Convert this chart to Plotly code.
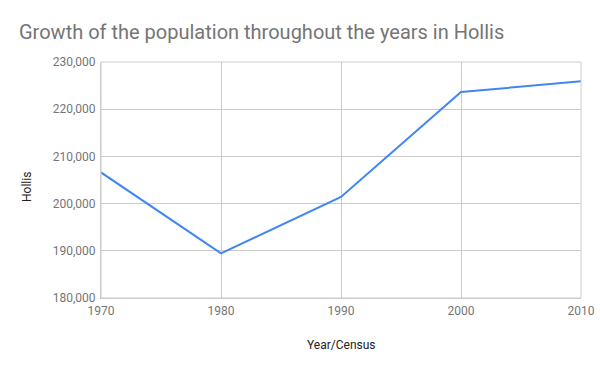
import plotly.graph_objects as go

years = [1970, 1980, 1990, 2000, 2010]
population = [206600, 189450, 201400, 223650, 225900]
y_ticks = [180000, 190000, 200000, 210000, 220000, 230000]
y_tick_labels = ["180,000", "190,000", "200,000", "210,000", "220,000", "230,000"]

W, H = 600, 371
L, R, T, B = 101, 19, 62, 73

fig = go.Figure()
fig.add_trace(go.Scatter(x=years, y=population, mode="lines",
                         line=dict(color="#4285F4", width=2), name="Hollis"))

fig.update_layout(
    width=W, height=H,
    margin=dict(l=L, r=R, t=T, b=B, autoexpand=False),
    paper_bgcolor="white", plot_bgcolor="white",
    font=dict(family="Roboto", size=12, color="#757575"),
    title=dict(text="Growth of the population throughout the years in Hollis",
               x=19/W, xanchor="left", y=1-32/H, yanchor="middle",
               font=dict(family="Roboto", size=20, color="#757575")),
    showlegend=False,
    xaxis=dict(range=[1970, 2010], tickvals=years, ticktext=[str(y) for y in years],
               showgrid=True, gridcolor="#cccccc", gridwidth=1,
               showline=True, linecolor="#cccccc", zeroline=False, automargin=False,
               ticks="", ticklabelstandoff=2, tickfont=dict(color="#757575", size=12)),
    yaxis=dict(range=[180000, 230000], tickvals=y_ticks, ticktext=y_tick_labels,
               showgrid=True, gridcolor="#cccccc", gridwidth=1,
               showline=True, linecolor="#cccccc", zeroline=False, automargin=False,
               ticks="", ticklabelstandoff=2, tickfont=dict(color="#757575", size=12)),
)
fig.add_shape(type="rect", xref="paper", yref="paper", x0=0, y0=0, x1=1, y1=1,
              line=dict(color="#cccccc", width=1))

pw, ph = W - L - R, H - T - B
fig.add_annotation(text="Year/Census", xref="paper", yref="paper",
                   x=(341 - L) / pw, y=(H - B - 345) / ph, showarrow=False,
                   xanchor="center", yanchor="middle",
                   font=dict(family="Roboto", size=12, color="#222222"))
fig.add_annotation(text="Hollis", xref="paper", yref="paper",
                   x=(27 - L) / pw, y=(H - B - 187) / ph, showarrow=False,
                   textangle=-90, xanchor="center", yanchor="middle",
                   font=dict(family="Roboto", size=12, color="#222222"))

fig.write_html("out.html", config={"displayModeBar": False},
               post_script="document.body.style.margin='0';document.body.style.overflow='hidden';")
